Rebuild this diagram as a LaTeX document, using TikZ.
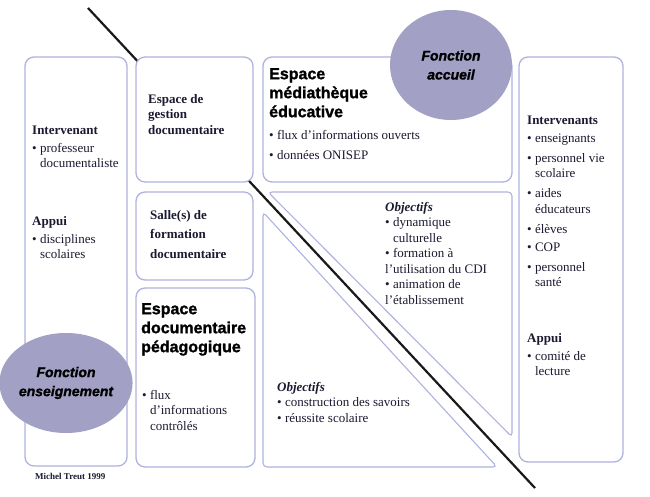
\documentclass[tikz,border=0pt]{standalone}
\usepackage{fontspec}
\setmainfont{Liberation Serif}
\setsansfont{Liberation Sans}
\newfontfamily\lourde[FakeBold=1.4]{Liberation Sans Bold}
\newfontfamily\lourdeit[FakeBold=1.2]{Liberation Sans Bold Italic}
\usepackage{xcolor}
\usetikzlibrary{shapes.geometric, positioning, calc}

\definecolor{bordzone}{HTML}{AEB2E0}
\definecolor{fondfonction}{HTML}{A3A0C6}
\definecolor{encre}{HTML}{1A1A30}

\newcommand{\puce}{\textbullet\ }
\newcommand{\retrait}{\phantom{\textbullet\ }}

\begin{document}
\begin{tikzpicture}[
        x=1pt, y=-1pt,
        zone/.style = {rectangle, draw=bordzone, line width=1.3pt, fill=white, rounded corners=9pt, inner sep=0pt},
        triangle/.style = {draw=bordzone, line width=1.1pt, fill=white, rounded corners=4pt},
        fonction/.style = {ellipse, fill=fondfonction, inner sep=0pt, align=center, text=black, font=\fontsize{14}{19}\selectfont\lourdeit},
        titre/.style = {anchor=north west, align=left, inner sep=0pt, text=black, font=\fontsize{16}{19}\selectfont\lourde},
        texte/.style = {anchor=north west, align=left, inner sep=0pt, text=encre, font=\fontsize{13}{15.5}\selectfont},
        coupe/.style = {line width=2.2pt, draw=black!90}
    ]

    \useasboundingbox (0,0) rectangle (650,497);

    % --- LES DEUX TRIANGLES (OBJECTIFS) ---
    \draw[triangle] (268,192) -- (512,192) -- (512,437) -- cycle;
    \draw[triangle] (263,212) -- (263,467) -- (497,467) -- cycle;

    % --- LA DIAGONALE ---
    \coordinate (haut) at (88,8);
    \coordinate (bas) at (535,488);
    \draw[coupe] (haut) -- (bas);

    % --- LES ESPACES ---
    \node[zone, minimum width=102pt, minimum height=409pt] (gauche) at (76,261.5) {};
    \node[zone, minimum width=117pt, minimum height=125pt] (gestion) at (194.5,119.5) {};
    \node[zone, minimum width=117pt, minimum height=88pt] (salle) at (194.5,236) {};
    \node[zone, minimum width=119pt, minimum height=179pt] (peda) at (195.5,377.5) {};
    \node[zone, minimum width=249pt, minimum height=125pt] (media) at (387.5,119.5) {};
    \node[zone, minimum width=104pt, minimum height=405pt] (droite) at (571,259.5) {};

    % --- LES FONCTIONS ---
    \node[fonction, minimum width=122pt, minimum height=110pt] (accueil) at (451,65) {Fonction\\ accueil};
    \node[fonction, minimum width=120pt, minimum height=100pt] (enseignement) at (66,383) {Fonction\\ enseignement};

    % --- TEXTES : colonne de gauche ---
    \node[texte] (intervenant) at (32,123.15) {\strut\textbf{Intervenant}\\[2.5pt] \puce professeur\\ \retrait documentaliste};
    \node[texte] (appui-g) at (32,214.15) {\strut\textbf{Appui}\\[2.5pt] \puce disciplines\\ \retrait scolaires};

    % --- TEXTES : colonne du milieu ---
    \node[texte, font=\fontsize{13}{15.5}\selectfont\bfseries] (gestion-txt) at (148,92.15) {\strut Espace de\\ gestion\\ documentaire};
    \node[texte, font=\fontsize{13}{19.5}\selectfont\bfseries] (salle-txt) at (150,205.35) {\strut Salle(s) de\\ formation\\ documentaire};
    \node[titre] (peda-titre) at (141,300.7) {\strut Espace\\ documentaire\\ pédagogique};
    \node[texte] (peda-txt) at (142,388.15) {\strut\puce flux\\ \retrait d'informations\\ \retrait contrôlés};

    % --- TEXTES : médiathèque ---
    \node[titre] (media-titre) at (269,65.7) {\strut Espace\\ médiathèque\\ éducative};
    \node[texte] (media-txt) at (269,128.15) {\strut\puce flux d'informations ouverts\\[4.5pt] \puce données ONISEP};

    % --- TEXTES : objectifs ---
    \node[texte] (objectifs-haut) at (385,200.15) {\strut\textbf{\textit{Objectifs}}\\ \puce dynamique\\ \retrait culturelle\\ \puce formation à\\ l'utilisation du CDI\\ \puce animation de\\ l'établissement};
    \node[texte] (objectifs-bas) at (277,380.15) {\strut\textbf{\textit{Objectifs}}\\ \puce construction des savoirs\\ \puce réussite scolaire};

    % --- TEXTES : colonne de droite ---
    \node[texte] (intervenants) at (527,113.15) {\strut\textbf{Intervenants}\\[2.5pt] \puce enseignants\\[4.5pt] \puce personnel vie\\ \retrait scolaire\\[4.5pt] \puce aides\\ \retrait éducateurs\\[4.5pt] \puce élèves\\[2.5pt] \puce COP\\[4.5pt] \puce personnel\\ \retrait santé};
    \node[texte] (appui-d) at (527,331.15) {\strut\textbf{Appui}\\[2.5pt] \puce comité de\\ \retrait lecture};

    % signature
    \node[anchor=base west, inner sep=0pt, text=encre, font=\fontsize{9}{10}\selectfont\bfseries] (signature) at (35,479) {Michel Treut 1999};

\end{tikzpicture}
\end{document}
